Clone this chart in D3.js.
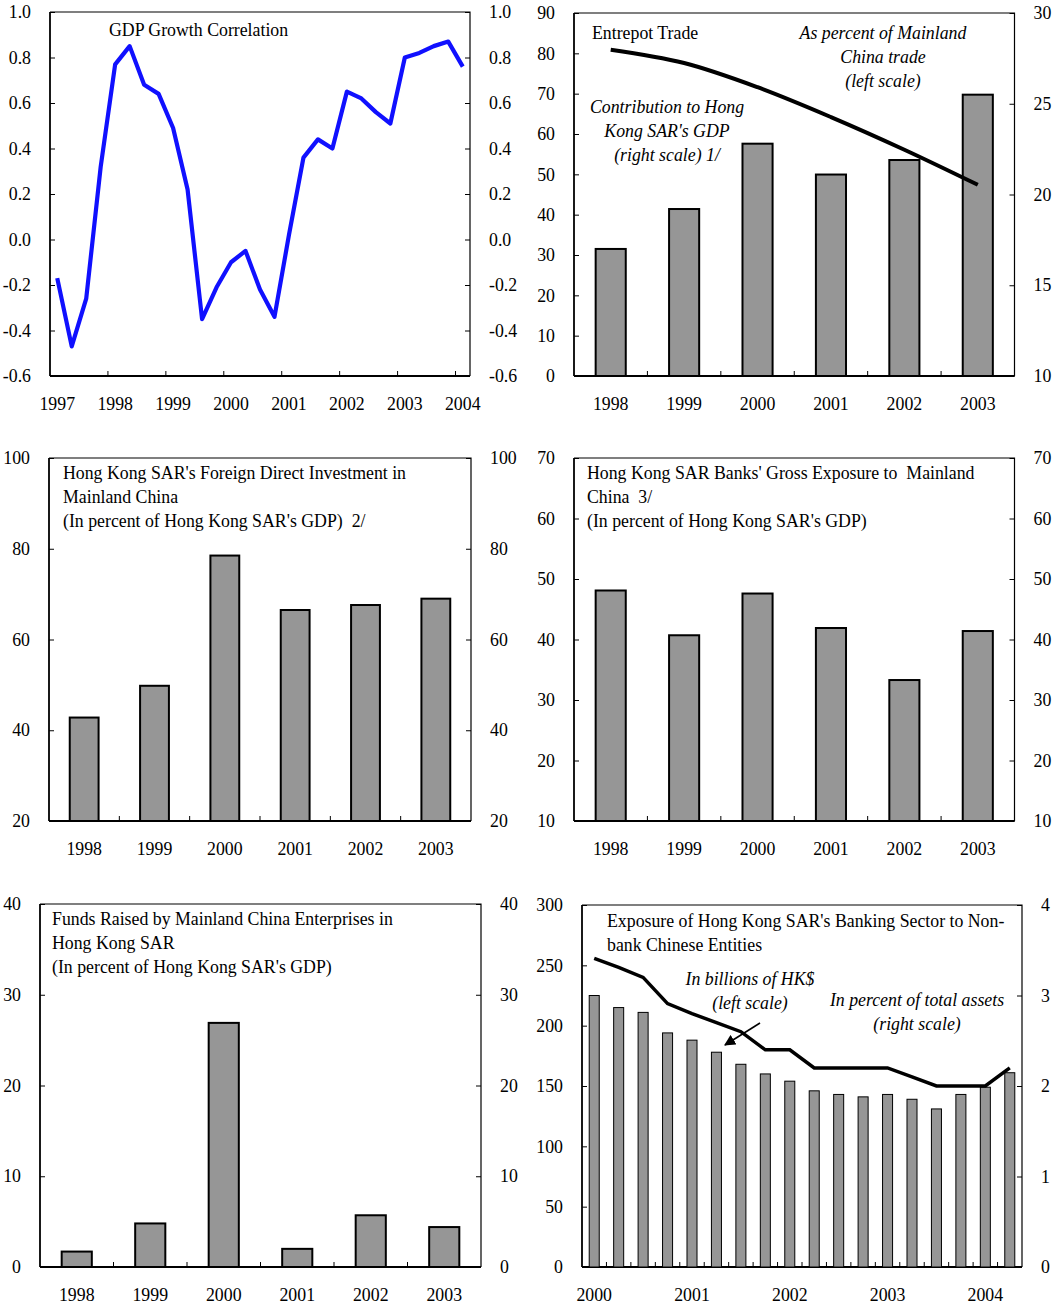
<!DOCTYPE html>
<html>
<head>
<meta charset="utf-8">
<script src="https://cdn.jsdelivr.net/npm/d3@7"></script>
<style>
  body { margin: 0; background: #fff; }
  svg text { font-family: "Liberation Serif", "Times New Roman", serif; font-size: 17.8px; fill: #000; white-space: pre; }
</style>
</head>
<body>
<svg id="chart" width="1058" height="1304"></svg>
<script>
// ---- data ----
const gdpYears = ['1997', '1998', '1999', '2000', '2001', '2002', '2003', '2004'];
// quarterly correlation, 1997Q1 .. 2004Q1
const gdpCorrelation = [
  -0.17, -0.47, -0.26, 0.32,
  0.77, 0.85, 0.68, 0.64,
  0.49, 0.22, -0.35, -0.21,
  -0.10, -0.05, -0.22, -0.34,
  0.02, 0.36, 0.44, 0.40,
  0.65, 0.62, 0.56, 0.51,
  0.80, 0.82, 0.85, 0.87,
  0.76,
];

const annualYears = ['1998', '1999', '2000', '2001', '2002', '2003'];
const entrepotShareOfTrade = [80.9, 77.6, 71.6, 64.2, 56.1, 47.4]; // left scale
const entrepotContribGdp = [17.0, 19.2, 22.8, 21.1, 21.9, 25.5]; // right scale

const fdiPctGdp = [42.8, 49.8, 78.5, 66.5, 67.6, 69.0];
const banksExposurePctGdp = [48.1, 40.7, 47.6, 41.9, 33.3, 41.4];
const fundsRaisedPctGdp = [1.7, 4.8, 26.9, 2.0, 5.7, 4.4];

const exposureYears = ['2000', '2001', '2002', '2003', '2004'];
// quarterly, 2000Q1 .. 2004Q2
const exposureBillionsHKD = [
  225, 215, 211, 194, 188, 178, 168, 160, 154,
  146, 143, 141, 143, 139, 131, 143, 149, 161,
];
const exposurePctAssets = [
  3.41, 3.31, 3.20, 2.91, 2.80, 2.70, 2.60, 2.40, 2.40,
  2.20, 2.20, 2.20, 2.20, 2.10, 2.00, 2.00, 2.00, 2.20,
];

const svg = d3.select('#chart');
const barFill = '#969696';

// quarter labels for the quarterly panels
function quarters(years, count) {
  const out = [];
  years.forEach(y => [1, 2, 3, 4].forEach(q => out.push(`${y}Q${q}`)));
  return out.slice(0, count);
}

// draws the frame, both y axes and the bottom axis of one panel
function panel({ box, leftDomain, leftTicks, rightDomain, rightTicks, cats, fmt, tickEvery = 1, labelOf }) {
  const g = svg.append('g');
  const x = d3.scaleBand().domain(cats).range([box.x0, box.x1]).padding(0);
  const yL = d3.scaleLinear().domain(leftDomain).range([box.y1, box.y0]);
  const yR = d3.scaleLinear().domain(rightDomain).range([box.y1, box.y0]);

  // top and right border (thin)
  g.append('path')
    .attr('d', `M${box.x0},${box.y0}H${box.x1}V${box.y1}`)
    .attr('fill', 'none').attr('stroke', '#000').attr('stroke-width', 1.2);

  // left and right y axes, ticks inside
  const left = g.append('g').attr('transform', `translate(${box.x0},0)`)
    .call(d3.axisLeft(yL).tickValues(leftTicks).tickSize(-5).tickPadding(19).tickFormat(fmt));
  const right = g.append('g').attr('transform', `translate(${box.x1},0)`)
    .call(d3.axisRight(yR).tickValues(rightTicks).tickSize(-5).tickPadding(19).tickFormat(fmt));
  [left, right].forEach(a => {
    a.attr('font-family', null).attr('font-size', null);
    a.select('.domain').remove();
    a.selectAll('line').attr('stroke', '#000').attr('stroke-width', 1);
  });
  g.append('line')
    .attr('x1', box.x0).attr('x2', box.x0).attr('y1', box.y0).attr('y2', box.y1)
    .attr('stroke', '#000').attr('stroke-width', 1.8);

  // bottom axis with ticks at category boundaries
  const step = x.step();
  const bounds = d3.range(1, cats.length).filter(i => i % tickEvery === 0)
    .map(i => x(cats[i]));
  g.selectAll('line.xt').data(bounds).join('line').attr('class', 'xt')
    .attr('x1', d => d).attr('x2', d => d)
    .attr('y1', box.y1).attr('y2', box.y1 - 5)
    .attr('stroke', '#000').attr('stroke-width', 1);
  g.append('line')
    .attr('x1', box.x0).attr('x2', box.x1).attr('y1', box.y1).attr('y2', box.y1)
    .attr('stroke', '#000').attr('stroke-width', 2);

  const labelled = cats.map((c, i) => ({ c, i, label: labelOf ? labelOf(c, i) : c }))
    .filter(d => d.label);
  g.selectAll('text.xl').data(labelled).join('text').attr('class', 'xl')
    .attr('x', d => x(d.c) + step / 2)
    .attr('y', box.y1 + 33.5)
    .attr('text-anchor', 'middle')
    .text(d => d.label);

  return { g, x, yL, yR };
}

function textLines(g, lines, x, y0, opts = {}) {
  g.selectAll(null).data(lines).join('text')
    .attr('x', x)
    .attr('y', (d, i) => y0 + i * 24)
    .attr('text-anchor', opts.anchor || 'start')
    .attr('font-style', opts.italic ? 'italic' : null)
    .text(d => d);
}

function bars(p, values, scale, widthRatio, strokeW) {
  const w = p.x.step() * widthRatio;
  p.g.selectAll(null).data(values).join('rect')
    .attr('x', (d, i) => p.x(p.x.domain()[i]) + (p.x.step() - w) / 2)
    .attr('width', w)
    .attr('y', d => scale(d))
    .attr('height', d => scale.range()[0] - scale(d))
    .attr('fill', barFill)
    .attr('stroke', '#000')
    .attr('stroke-width', strokeW);
}

const fmt1 = d => d.toFixed(1);
const fmt0 = d => String(d);

// ---- panel 1: GDP growth correlation ----
{
  const cats = quarters(gdpYears, gdpCorrelation.length);
  const ticks = d3.range(-0.6, 1.01, 0.2).map(v => Math.round(v * 10) / 10);
  const p = panel({
    box: { x0: 50, x1: 470, y0: 12, y1: 376 },
    leftDomain: [-0.6, 1.0], leftTicks: ticks,
    rightDomain: [-0.6, 1.0], rightTicks: ticks,
    cats, fmt: fmt1, tickEvery: 4,
    labelOf: (c, i) => (i % 4 === 0 ? c.slice(0, 4) : null),
  });
  const line = d3.line()
    .x((d, i) => p.x(cats[i]) + p.x.step() / 2)
    .y(d => p.yL(d));
  p.g.append('path').datum(gdpCorrelation)
    .attr('d', line).attr('fill', 'none')
    .attr('stroke', '#1010ff').attr('stroke-width', 4.2)
    .attr('stroke-linejoin', 'round');
  textLines(p.g, ['GDP Growth Correlation'], 109, 36);
}

// ---- panel 2: entrepot trade ----
{
  const p = panel({
    box: { x0: 574, x1: 1014.5, y0: 13, y1: 376 },
    leftDomain: [0, 90], leftTicks: d3.range(0, 91, 10),
    rightDomain: [10, 30], rightTicks: d3.range(10, 31, 5),
    cats: annualYears, fmt: fmt0,
  });
  bars(p, entrepotContribGdp, p.yR, 0.41, 2);
  const line = d3.line()
    .x((d, i) => p.x(annualYears[i]) + p.x.step() / 2)
    .y(d => p.yL(d))
    .curve(d3.curveCatmullRom);
  p.g.append('path').datum(entrepotShareOfTrade)
    .attr('d', line).attr('fill', 'none')
    .attr('stroke', '#000').attr('stroke-width', 4);
  textLines(p.g, ['Entrepot Trade'], 592, 39);
  textLines(p.g, ['As percent of Mainland', 'China trade', '(left scale)'], 883, 39, { anchor: 'middle', italic: true });
  textLines(p.g, ['Contribution to Hong', "Kong SAR's GDP", '(right scale) 1/'], 667, 113, { anchor: 'middle', italic: true });
}

// ---- panel 3: FDI ----
{
  const p = panel({
    box: { x0: 49, x1: 471, y0: 458, y1: 821 },
    leftDomain: [20, 100], leftTicks: d3.range(20, 101, 20),
    rightDomain: [20, 100], rightTicks: d3.range(20, 101, 20),
    cats: annualYears, fmt: fmt0,
  });
  bars(p, fdiPctGdp, p.yL, 0.41, 2);
  textLines(p.g, ["Hong Kong SAR's Foreign Direct Investment in", 'Mainland China',
    "(In percent of Hong Kong SAR's GDP)  2/"], 63, 479);
}

// ---- panel 4: banks' gross exposure ----
{
  const p = panel({
    box: { x0: 574, x1: 1014.5, y0: 458, y1: 821 },
    leftDomain: [10, 70], leftTicks: d3.range(10, 71, 10),
    rightDomain: [10, 70], rightTicks: d3.range(10, 71, 10),
    cats: annualYears, fmt: fmt0,
  });
  bars(p, banksExposurePctGdp, p.yL, 0.41, 2);
  textLines(p.g, ["Hong Kong SAR Banks' Gross Exposure to  Mainland", 'China  3/',
    "(In percent of Hong Kong SAR's GDP)"], 587, 479);
}

// ---- panel 5: funds raised ----
{
  const p = panel({
    box: { x0: 40, x1: 481, y0: 904, y1: 1267 },
    leftDomain: [0, 40], leftTicks: d3.range(0, 41, 10),
    rightDomain: [0, 40], rightTicks: d3.range(0, 41, 10),
    cats: annualYears, fmt: fmt0,
  });
  bars(p, fundsRaisedPctGdp, p.yL, 0.41, 2);
  textLines(p.g, ['Funds Raised by Mainland China Enterprises in', 'Hong Kong SAR',
    "(In percent of Hong Kong SAR's GDP)"], 52, 925);
}

// ---- panel 6: banking sector exposure to non-bank Chinese entities ----
{
  const cats = quarters(exposureYears, exposureBillionsHKD.length);
  const p = panel({
    box: { x0: 582, x1: 1022, y0: 905, y1: 1267 },
    leftDomain: [0, 300], leftTicks: d3.range(0, 301, 50),
    rightDomain: [0, 4], rightTicks: d3.range(0, 5, 1),
    cats, fmt: fmt0,
    labelOf: (c, i) => (i % 4 === 0 ? c.slice(0, 4) : null),
  });
  bars(p, exposureBillionsHKD, p.yL, 0.41, 1);
  const line = d3.line()
    .x((d, i) => p.x(cats[i]) + p.x.step() / 2)
    .y(d => p.yR(d));
  p.g.append('path').datum(exposurePctAssets)
    .attr('d', line).attr('fill', 'none')
    .attr('stroke', '#000').attr('stroke-width', 3.5);
  textLines(p.g, ["Exposure of Hong Kong SAR's Banking Sector to Non-", 'bank Chinese Entities'], 607, 927);
  textLines(p.g, ['In billions of HK$', '(left scale)'], 750, 985, { anchor: 'middle', italic: true });
  textLines(p.g, ['In percent of total assets', '(right scale)'], 917, 1006, { anchor: 'middle', italic: true });

  // arrow pointing at the bars
  svg.append('defs').append('marker')
    .attr('id', 'arrowhead').attr('viewBox', '0 0 10 10')
    .attr('refX', 9).attr('refY', 5)
    .attr('markerWidth', 7).attr('markerHeight', 7)
    .attr('markerUnits', 'strokeWidth')
    .attr('orient', 'auto')
    .append('path').attr('d', 'M0,0L10,5L0,10z').attr('fill', '#000');
  p.g.append('line')
    .attr('x1', 760).attr('y1', 1023).attr('x2', 725).attr('y2', 1045)
    .attr('stroke', '#000').attr('stroke-width', 1.6)
    .attr('marker-end', 'url(#arrowhead)');
}
</script>
</body>
</html>
